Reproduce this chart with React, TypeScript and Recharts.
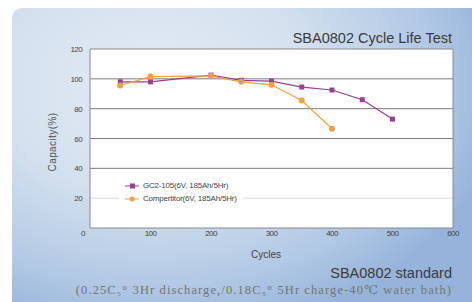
import { LineChart, Line, XAxis, YAxis, CartesianGrid, ReferenceLine } from 'recharts';

// cycles on the x axis
const cycles = [50, 100, 200, 250, 300, 350, 400, 450, 500];
// capacity (%)
const gc2Values = [98, 98, 102.5, 99, 98.5, 94.5, 92.5, 86, 73];
const competitorValues = [95.5, 101.5, 102, 98, 96, 85.5, 66.5, null, null];

const xTicks = [0, 100, 200, 300, 400, 500, 600];
const yTicks = [20, 40, 60, 80, 100, 120];
const gridValues = [40, 60, 80, 100];

const legendItems = [
  { label: 'GC2-105(6V, 185Ah/5Hr)', color: '#9a3f8e', square: true },
  { label: 'Compertitor(6V, 185Ah/5Hr)', color: '#f0a040', square: false },
];

const chartData = cycles.map((c, i) => ({
  cycle: c,
  gc2: gc2Values[i],
  competitor: competitorValues[i],
}));

const PURPLE = '#9a3f8e';
const ORANGE = '#f0a040';
const tickFont = "'Liberation Sans', Arial, sans-serif";

const XTick = (props: any) => {
  const { x, y, payload } = props;
  // the "0" label sits a bit left of the corner in the original
  const dx = payload.value === 0 ? -7 : 0;
  return (
    <text x={x + dx} y={y + 3} textAnchor="middle" fontSize={8} fill="#444"
      fontFamily={tickFont} letterSpacing={-0.6}>
      {payload.value}
    </text>
  );
};

const YTick = (props: any) => {
  const { x, y, payload } = props;
  return (
    <text x={x} y={y + 3} textAnchor="end" fontSize={8} fill="#444"
      fontFamily={tickFont} letterSpacing={-0.6}>
      {payload.value}
    </text>
  );
};

const SquareDot = (props: any) => {
  const { cx, cy } = props;
  if (cx == null || cy == null) return null;
  return <rect x={cx - 2.5} y={cy - 2.5} width={5} height={5} fill={PURPLE} />;
};

const CircleDot = (props: any) => {
  const { cx, cy, value } = props;
  if (cx == null || cy == null || value == null) return null;
  return <circle cx={cx} cy={cy} r={3} fill={ORANGE} />;
};

export default function App() {
  return (
    <div style={{ position: 'absolute', left: 0, top: 0, width: 472, height: 302, background: 'white', overflow: 'hidden' }}>
      <div style={{
        position: 'absolute', left: 12, top: 8, width: 470, height: 300,
        borderTopLeftRadius: 10,
        background: 'radial-gradient(ellipse 75% 85% at 30% 25%, #e4ecf5 0%, #d3e0ee 45%, #b1c8e4 80%, #96b4db 100%)',
      }} />
      <div style={{ position: 'absolute', left: 90, top: 49, width: 363, height: 179, background: 'white' }} />
      <div style={{
        position: 'absolute', right: 20, top: 30, fontFamily: tickFont, fontSize: 14.5, color: '#3a3a3a',
      }}>
        SBA0802 Cycle Life Test
      </div>
      <div style={{
        position: 'absolute', left: 52, top: 142, transform: 'translate(-50%, -50%) rotate(-90deg)',
        fontFamily: tickFont, fontSize: 10, letterSpacing: 0.4, color: '#555', whiteSpace: 'nowrap',
      }}>
        Capacity(%)
      </div>
      <div style={{ position: 'absolute', left: 0, top: 0 }}>
        <LineChart width={472} height={302} data={chartData}
          margin={{ top: 49, right: 19, bottom: 54, left: 60 }}>
          <CartesianGrid horizontal={true} vertical={false} horizontalValues={gridValues}
            stroke="#7a7a7a" strokeWidth={1} />
          <ReferenceLine y={20} stroke="#d8d8d8" strokeWidth={1} />
          <XAxis dataKey="cycle" type="number" domain={[0, 600]} ticks={xTicks}
            axisLine={{ stroke: '#8a8a8a' }} tickLine={false} tickSize={0} tickMargin={5}
            height={20} tick={<XTick />} interval={0} />
          <YAxis type="number" domain={[0, 120]} ticks={yTicks} width={30}
            axisLine={{ stroke: '#8a8a8a' }} tickLine={false} tick={<YTick />} interval={0} />
          <ReferenceLine y={120} stroke="#8a8a8a" strokeWidth={1} />
          <ReferenceLine x={600} stroke="#8a8a8a" strokeWidth={1} />
          <Line type="linear" dataKey="gc2" stroke={PURPLE} strokeWidth={1.2}
            dot={<SquareDot />} activeDot={false} isAnimationActive={false} />
          <Line type="linear" dataKey="competitor" stroke={ORANGE} strokeWidth={1.2}
            dot={<CircleDot />} activeDot={false} isAnimationActive={false} connectNulls={false} />
        </LineChart>
      </div>
      <div style={{
        position: 'absolute', left: 119, top: 179, background: 'white', padding: '0 6px',
        fontFamily: tickFont, fontSize: 8, color: '#444', lineHeight: '13px', letterSpacing: -0.2,
      }}>
        {legendItems.map((item) => (
          <div key={item.label} style={{ display: 'flex', alignItems: 'center' }}>
            <svg width={14} height={8} style={{ marginRight: 4 }}>
              <line x1={0} y1={4} x2={14} y2={4} stroke={item.color} strokeWidth={1} />
              {item.square
                ? <rect x={5} y={1.5} width={5} height={5} fill={item.color} />
                : <circle cx={7} cy={4} r={2.5} fill={item.color} />}
            </svg>
            <span>{item.label}</span>
          </div>
        ))}
      </div>
      <div style={{
        position: 'absolute', left: 266, top: 249, transform: 'translateX(-50%)',
        fontFamily: tickFont, fontSize: 10, color: '#444',
      }}>
        Cycles
      </div>
      <div style={{
        position: 'absolute', right: 20, top: 265, fontFamily: tickFont, fontSize: 14.5, color: '#3a3a3a',
      }}>
        SBA0802 standard
      </div>
      <div style={{
        position: 'absolute', right: 20, top: 282, fontFamily: "'Liberation Serif', 'DejaVu Serif', serif",
        fontSize: 12.5, letterSpacing: 1.1, color: '#747474', whiteSpace: 'nowrap',
      }}>
        (0.25C₅° 3Hr discharge,/0.18C₅° 5Hr charge-40℃ water bath)
      </div>
    </div>
  );
}
